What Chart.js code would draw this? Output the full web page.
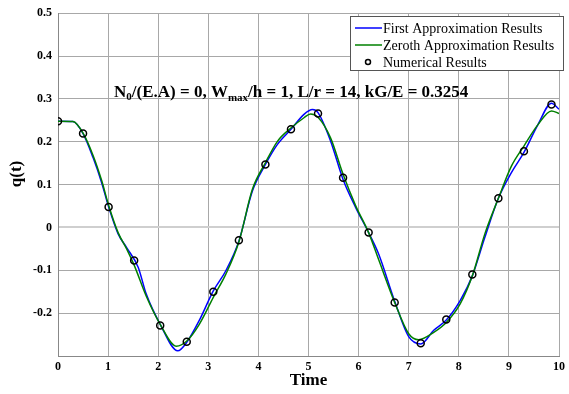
<!DOCTYPE html>
<html>
<head>
<meta charset="utf-8">
<script src="https://cdn.jsdelivr.net/npm/chart.js@4.4.1/dist/chart.umd.min.js"></script>
<style>
  html, body { margin: 0; padding: 0; background: #fff; }
  #wrap { width: 569px; height: 394px; }
</style>
</head>
<body>
<div id="wrap"><canvas id="myChart" width="569" height="394"></canvas></div>
<script>
// first approximation (blue)
const tBlue = [0, 0.30, 0.50, 0.70, 0.87, 1.01, 1.20, 1.37, 1.60, 1.76, 2.04, 2.39, 2.57, 2.82, 3.10, 3.35, 3.61, 3.88, 4.14, 4.38, 4.65, 4.91, 5.08, 5.19, 5.44, 5.69, 5.94, 6.20, 6.40, 6.72, 7.00, 7.24, 7.50, 7.75, 8.03, 8.27, 8.52, 8.79, 9.05, 9.30, 9.58, 9.85, 10.0];
const qBlue = [0.248, 0.247, 0.219, 0.163, 0.105, 0.048, -0.015, -0.047, -0.093, -0.155, -0.226, -0.288, -0.268, -0.217, -0.148, -0.101, -0.032, 0.085, 0.147, 0.194, 0.229, 0.264, 0.275, 0.268, 0.202, 0.112, 0.047, -0.012, -0.062, -0.172, -0.255, -0.272, -0.240, -0.216, -0.170, -0.113, -0.023, 0.068, 0.128, 0.175, 0.240, 0.290, 0.276];
// zeroth approximation (green)
const tGreen = [0, 0.30, 0.50, 0.70, 0.87, 1.01, 1.20, 1.37, 1.52, 1.76, 2.04, 2.36, 2.57, 2.82, 3.10, 3.35, 3.61, 3.88, 4.14, 4.38, 4.65, 4.91, 5.04, 5.19, 5.44, 5.69, 5.94, 6.20, 6.40, 6.72, 7.00, 7.20, 7.50, 7.75, 8.03, 8.27, 8.52, 8.79, 9.05, 9.30, 9.58, 9.85, 10.0];
const qGreen = [0.248, 0.247, 0.220, 0.168, 0.110, 0.052, -0.012, -0.050, -0.088, -0.160, -0.226, -0.277, -0.265, -0.226, -0.163, -0.109, -0.034, 0.089, 0.151, 0.201, 0.232, 0.256, 0.265, 0.257, 0.209, 0.124, 0.051, -0.012, -0.075, -0.175, -0.248, -0.262, -0.245, -0.222, -0.178, -0.113, -0.015, 0.068, 0.143, 0.190, 0.240, 0.272, 0.266];
// numerical results (circles)
const tNum = [0, 0.50, 1.01, 1.52, 2.04, 2.57, 3.10, 3.61, 4.14, 4.65, 5.19, 5.69, 6.20, 6.72, 7.24, 7.75, 8.27, 8.79, 9.30, 9.85];
const qNum = [0.248, 0.219, 0.048, -0.077, -0.229, -0.267, -0.150, -0.030, 0.147, 0.229, 0.266, 0.116, -0.012, -0.175, -0.270, -0.215, -0.110, 0.068, 0.178, 0.287];

const xTicks = [0, 1, 2, 3, 4, 5, 6, 7, 8, 9, 10];
const yTicks = [-0.3, -0.2, -0.1, 0, 0.1, 0.2, 0.3, 0.4, 0.5];

const legendLabels = ['First Approximation Results', 'Zeroth Approximation Results', 'Numerical Results'];

const pts = (xs, ys) => xs.map((x, i) => ({ x: x, y: ys[i] }));
const serif = "'Liberation Serif', 'Times New Roman', serif";

// text annotation + legend box + y title
const extras = {
  id: 'extras',
  afterDraw(chart) {
    const c = chart.ctx;
    c.save();
    // annotation with subscripts
    let x = 114, y = 97;
    const big = 'bold 17px ' + serif, small = 'bold 11px ' + serif;
    const parts = [['N', big, 0], ['0', small, 3], ['/(E.A) = 0, W', big, 0], ['max', small, 4], ['/h = 1, L/r = 14, kG/E = 0.3254', big, 0]];
    c.fillStyle = '#000';
    c.textBaseline = 'alphabetic';
    c.textAlign = 'left';
    parts.forEach(p => {
      c.font = p[1];
      c.fillText(p[0], x, y + p[2]);
      x += c.measureText(p[0]).width;
    });

    // legend
    c.fillStyle = '#fff';
    c.fillRect(350, 16, 214, 54);
    c.strokeStyle = '#555';
    c.lineWidth = 1;
    c.strokeRect(350.5, 16.5, 213, 54);
    const rows = [28, 45, 62];
    c.font = '14px ' + serif;
    c.textBaseline = 'middle';
    c.lineWidth = 1.5;
    c.strokeStyle = '#0000ff';
    c.beginPath(); c.moveTo(355, rows[0]); c.lineTo(382, rows[0]); c.stroke();
    c.strokeStyle = '#008000';
    c.beginPath(); c.moveTo(355, rows[1]); c.lineTo(382, rows[1]); c.stroke();
    c.strokeStyle = '#000';
    c.beginPath(); c.arc(368, rows[2], 2.5, 0, Math.PI * 2); c.stroke();
    c.fillStyle = '#000';
    legendLabels.forEach((l, i) => c.fillText(l, 383, rows[i] + 1));

    // y title
    c.translate(17, 174);
    c.rotate(-Math.PI / 2);
    c.font = 'bold 17px ' + serif;
    c.textAlign = 'center';
    c.fillText('q(t)', 0, 0);
    c.restore();
  }
};

new Chart(document.getElementById('myChart'), {
  type: 'scatter',
  data: {
    datasets: [
      {
        label: legendLabels[2],
        data: pts(tNum, qNum),
        showLine: false,
        pointStyle: 'circle',
        pointRadius: 3.5,
        pointBorderWidth: 1.5,
        pointBorderColor: '#000',
        pointBackgroundColor: 'rgba(0,0,0,0)',
        order: 0
      },
      {
        label: legendLabels[1],
        data: pts(tGreen, qGreen),
        showLine: true,
        borderColor: '#008000',
        borderWidth: 1.5,
        pointRadius: 0,
        cubicInterpolationMode: 'monotone',
        order: 1
      },
      {
        label: legendLabels[0],
        data: pts(tBlue, qBlue),
        showLine: true,
        borderColor: '#0000ff',
        borderWidth: 1.5,
        pointRadius: 0,
        cubicInterpolationMode: 'monotone',
        order: 2
      }
    ]
  },
  options: {
    responsive: false,
    animation: false,
    layout: { padding: { top: 11, right: 8, left: 0, bottom: 0 } },
    plugins: { legend: { display: false }, tooltip: { enabled: false } },
    scales: {
      x: {
        type: 'linear',
        min: 0, max: 10,
        afterBuildTicks: s => { s.ticks = xTicks.map(v => ({ value: v })); },
        afterFit: s => { s.height = 38; },
        grid: {
          color: '#a8a8a8',
          lineWidth: 1,
          drawTicks: false
        },
        border: { color: '#888', width: 1 },
        ticks: {
          color: '#000',
          padding: 4,
          font: { family: serif, size: 12, weight: 'bold' }
        },
        title: {
          display: true,
          text: 'Time',
          color: '#000',
          padding: { top: 0, bottom: 3 },
          font: { family: serif, size: 17, weight: 'bold' }
        }
      },
      y: {
        min: -0.3, max: 0.5,
        afterBuildTicks: s => { s.ticks = yTicks.map(v => ({ value: v })); },
        afterFit: s => { s.width = 58; },
        grid: {
          color: c => Math.abs(c.tick.value) < 1e-9 ? '#cfcfcf' : '#a8a8a8',
          lineWidth: c => Math.abs(c.tick.value) < 1e-9 ? 2 : 1,
          drawTicks: false
        },
        border: { color: '#888', width: 1 },
        ticks: {
          color: '#000',
          padding: 6,
          font: { family: serif, size: 12, weight: 'bold' },
          callback: v => Math.abs(v + 0.3) < 1e-9 ? '' : (Math.abs(v) < 1e-9 ? '0' : String(Math.round(v * 10) / 10))
        }
      }
    }
  },
  plugins: [extras]
});
</script>
</body>
</html>
